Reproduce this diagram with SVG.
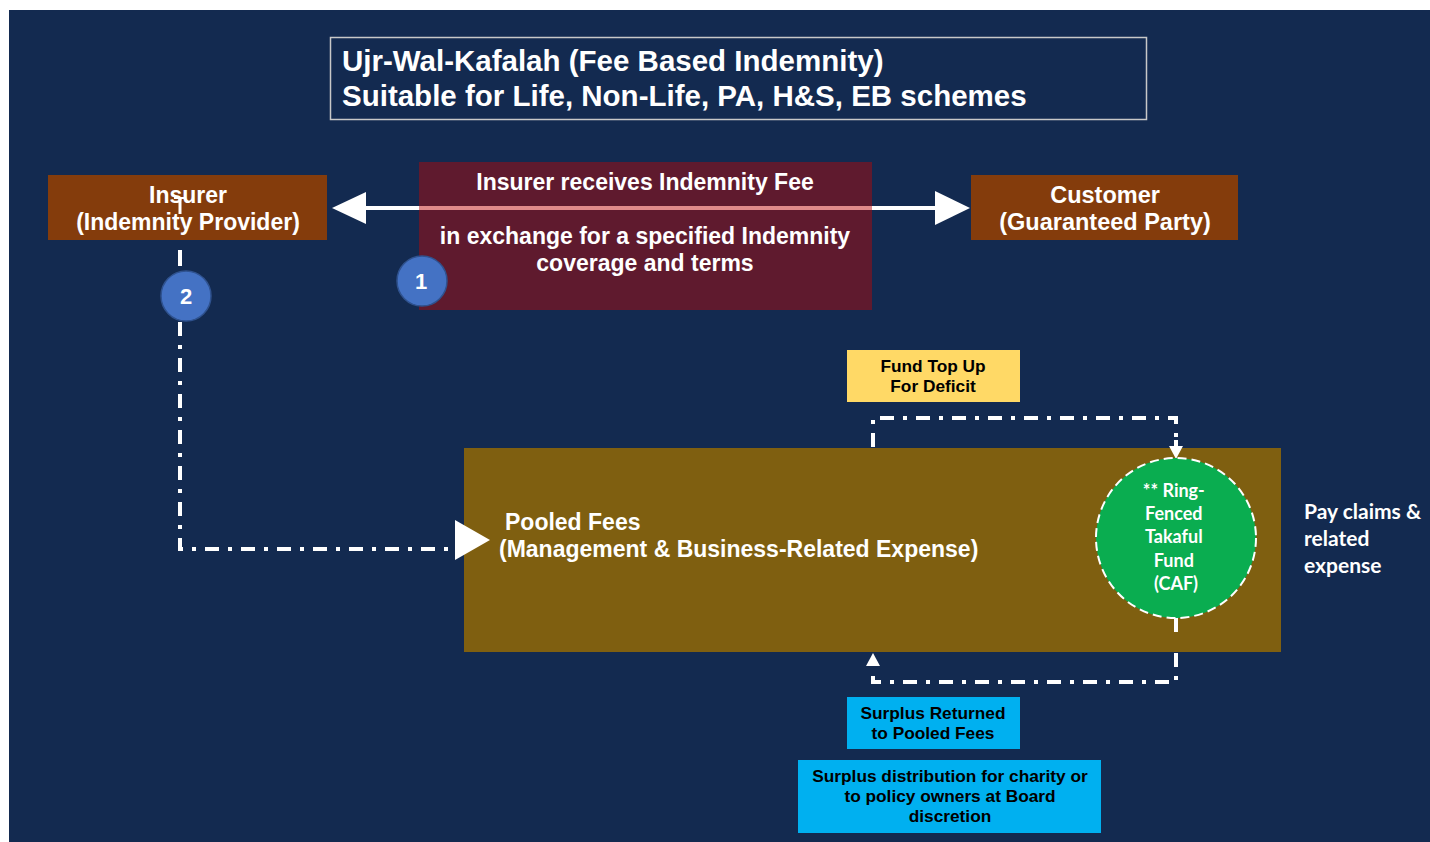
<svg xmlns="http://www.w3.org/2000/svg" width="1430" height="842" viewBox="0 0 1430 842">
  <style>
    .hd { font-family: "Liberation Sans", Arial, sans-serif; font-weight: bold; fill: #ffffff; }
    .lbl { font-family: "Liberation Sans", Arial, sans-serif; font-weight: bold; fill: #000000; font-size: 17.3px; text-anchor: middle; }
    .cal { font-family: Lato, "Open Sans", sans-serif; font-weight: bold; fill: #ffffff; }
    .flow { fill: none; stroke: #ffffff; stroke-width: 4; stroke-dasharray: 14 9 4 9; }
    .badge { fill: #4472c4; stroke: #2f528f; stroke-width: 1.5; }
    .badgeText { font-family: "Liberation Sans", Arial, sans-serif; font-weight: bold; fill: #ffffff; font-size: 22px; text-anchor: middle; }
  </style>

  <!-- page background -->
  <rect x="0" y="0" width="1430" height="842" fill="#ffffff"/>
  <rect x="9" y="10" width="1421" height="832" fill="#132a50"/>

  <!-- title -->
  <g id="title">
    <rect x="330.5" y="37.5" width="816" height="82" fill="none" stroke="#c8c8c8" stroke-width="1.5"/>
    <text class="hd" x="342" y="71" font-size="29.5">Ujr-Wal-Kafalah (Fee Based Indemnity)</text>
    <text class="hd" x="342" y="106" font-size="29.5">Suitable for Life, Non-Life, PA, H&amp;S, EB schemes</text>
  </g>

  <!-- connectors that sit beneath the boxes -->
  <g id="connectors">
    <!-- fee exchange arrow -->
    <line x1="362" y1="208" x2="938" y2="208" stroke="#ffffff" stroke-width="4"/>
    <polygon points="332,208 366,192 366,224" fill="#ffffff"/>
    <polygon points="970,208 935,191 935,225" fill="#ffffff"/>

    <!-- insurer to pooled fees -->
    <line x1="180" y1="250" x2="180" y2="266" stroke="#ffffff" stroke-width="4"/>
    <path class="flow" d="M180,322 V549 H455"/>

    <!-- fund top up loop -->
    <path class="flow" d="M873,447 V418 H1176 V448"/>

    <!-- surplus return loop -->
    <path class="flow" d="M1176,617 V682 H873 V668"/>
    <polygon points="873,653 866,666 880,666" fill="#ffffff"/>
  </g>

  <g id="insurer">
    <rect x="48" y="175" width="279" height="65" fill="#843c0c"/>
    <text class="hd" x="188" y="203" font-size="23" text-anchor="middle">Insurer</text>
    <text class="hd" x="188" y="230" font-size="23" text-anchor="middle">(Indemnity Provider)</text>
    <line x1="180" y1="197" x2="180" y2="214" stroke="#ffffff" stroke-width="3"/>
    <line x1="174" y1="198" x2="186" y2="198" stroke="#ffffff" stroke-width="2"/>
  </g>

  <g id="fee">
    <rect x="419" y="162" width="453" height="148" fill="#5f1a2e"/>
    <line x1="419" y1="208" x2="872" y2="208" stroke="#e08a8a" stroke-width="4"/>
    <text class="hd" x="645" y="190" font-size="23" text-anchor="middle">Insurer receives Indemnity Fee</text>
    <text class="hd" x="645" y="244" font-size="23" text-anchor="middle">in exchange for a specified Indemnity</text>
    <text class="hd" x="645" y="271" font-size="23" text-anchor="middle">coverage and terms</text>
  </g>

  <g id="customer">
    <rect x="971" y="175" width="267" height="65" fill="#843c0c"/>
    <text class="hd" x="1105" y="203" font-size="23.5" text-anchor="middle">Customer</text>
    <text class="hd" x="1105" y="230" font-size="23.5" text-anchor="middle">(Guaranteed Party)</text>
  </g>

  <g id="step1">
    <circle class="badge" cx="422" cy="281" r="25"/>
    <text class="badgeText" x="421" y="289">1</text>
  </g>

  <g id="step2">
    <circle class="badge" cx="186" cy="296" r="25"/>
    <text class="badgeText" x="186" y="304">2</text>
  </g>

  <g id="pooled">
    <rect x="464" y="448" width="817" height="204" fill="#7f5f10"/>
    <text class="hd" x="505" y="530" font-size="23">Pooled Fees</text>
    <text class="hd" x="499" y="557" font-size="23">(Management &amp; Business-Related Expense)</text>
  </g>

  <!-- arrowheads and line ends drawn over the pooled box -->
  <g id="connectors-over">
    <polygon points="490,540 455,520 455,560" fill="#ffffff"/>
    <line x1="1176" y1="440" x2="1176" y2="450" stroke="#ffffff" stroke-width="4"/>
    <polygon points="1176,459 1169,446 1183,446" fill="#ffffff"/>
    <line x1="1176" y1="617" x2="1176" y2="632" stroke="#ffffff" stroke-width="4"/>
  </g>

  <g id="caf">
    <circle cx="1176" cy="538" r="80" fill="#0aad50" stroke="#ffffff" stroke-width="2" stroke-dasharray="9 5"/>
    <text class="cal" font-size="18" text-anchor="middle">
      <tspan x="1176" y="497">** Ring-</tspan>
      <tspan x="1176" y="520">Fenced</tspan>
      <tspan x="1176" y="543">Takaful</tspan>
      <tspan x="1176" y="567">Fund</tspan>
      <tspan x="1176" y="590">(CAF)</tspan>
    </text>
  </g>

  <g id="topup">
    <rect x="847" y="350" width="173" height="52" fill="#ffd966"/>
    <text class="lbl" x="933" y="372">Fund Top Up</text>
    <text class="lbl" x="933" y="392">For Deficit</text>
  </g>

  <g id="surplus-returned">
    <rect x="847" y="697" width="173" height="52" fill="#00b0f0"/>
    <text class="lbl" x="933" y="719">Surplus Returned</text>
    <text class="lbl" x="933" y="739">to Pooled Fees</text>
  </g>

  <g id="surplus-distribution">
    <rect x="798" y="760" width="303" height="73" fill="#00b0f0"/>
    <text class="lbl" x="950" y="782">Surplus distribution for charity or</text>
    <text class="lbl" x="950" y="802">to policy owners at Board</text>
    <text class="lbl" x="950" y="822">discretion</text>
  </g>

  <g id="claims">
    <text class="cal" font-size="21">
      <tspan x="1304" y="519">Pay claims &amp;</tspan>
      <tspan x="1304" y="546">related</tspan>
      <tspan x="1304" y="573">expense</tspan>
    </text>
  </g>
</svg>
